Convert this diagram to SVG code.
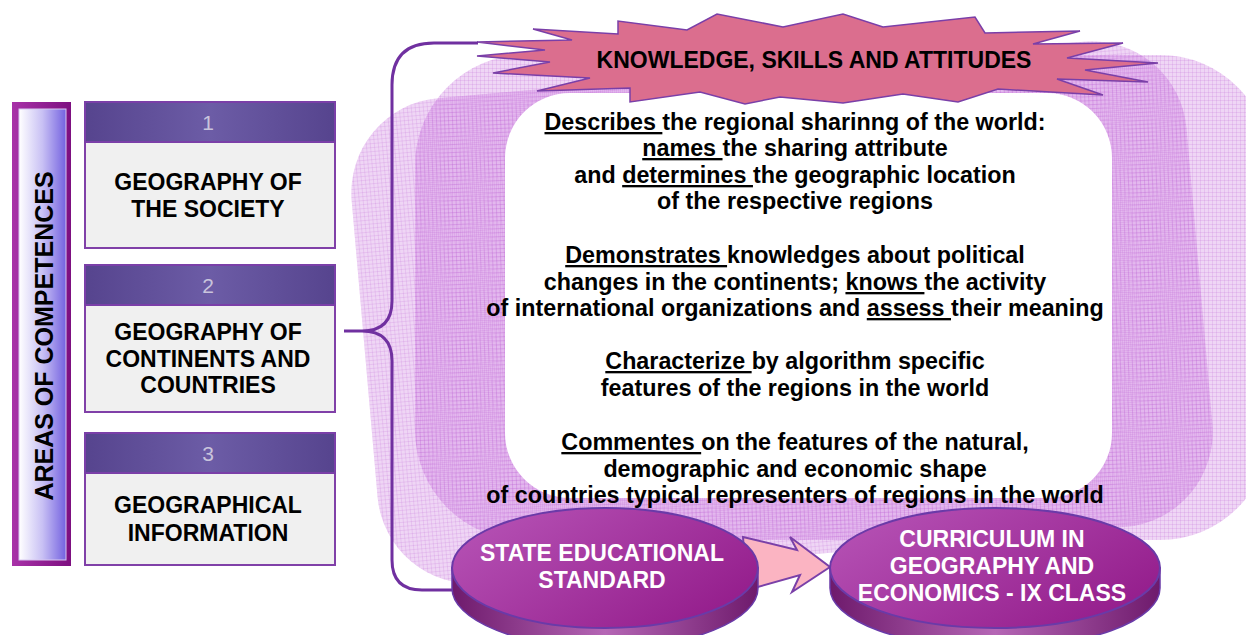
<svg xmlns="http://www.w3.org/2000/svg" width="1246" height="635" viewBox="0 0 1246 635">
<style>
.b{font-family:"Liberation Sans",Arial,sans-serif;font-weight:bold;font-size:23px;fill:#000;text-anchor:middle}
.m{font-size:23.3px}
.w{font-family:"Liberation Sans",Arial,sans-serif;font-weight:bold;font-size:23px;fill:#fff;text-anchor:middle}
.num{font-family:"Liberation Sans",Arial,sans-serif;font-size:21px;fill:#c9c4dc;text-anchor:middle}
.hdr{fill:url(#hdrG);stroke:#7a3fa8;stroke-width:2}
.body{fill:#f0f0f0;stroke:#8040a8;stroke-width:2}
.u{text-decoration:underline}
.face{stroke:#6a3aa8;stroke-width:2}
</style>
<defs>
<pattern id="grid" width="4" height="4" patternUnits="userSpaceOnUse">
<rect width="4" height="4" fill="#c060d8" fill-opacity="0.26"/>
<path d="M0 0.5H4M0.5 0V4" stroke="#b048d0" stroke-opacity="0.14" stroke-width="1"/>
</pattern>
<linearGradient id="hdrG" x1="0" y1="0" x2="1" y2="0">
<stop offset="0" stop-color="#56448e"/><stop offset="0.5" stop-color="#6c5ca6"/><stop offset="1" stop-color="#56448e"/>
</linearGradient>
<linearGradient id="barOut" x1="0" y1="0" x2="1" y2="0">
<stop offset="0" stop-color="#a832a8"/><stop offset="1" stop-color="#7d0f80"/>
</linearGradient>
<linearGradient id="barIn" x1="0" y1="0" x2="1" y2="0">
<stop offset="0" stop-color="#ffffff"/><stop offset="0.5" stop-color="#c8c0f4"/><stop offset="1" stop-color="#7462e0"/>
</linearGradient>
<linearGradient id="faceG" x1="0" y1="0" x2="1" y2="0.6">
<stop offset="0" stop-color="#b856b8"/><stop offset="1" stop-color="#96208e"/>
</linearGradient>
<linearGradient id="sideG" x1="0" y1="0" x2="1" y2="0">
<stop offset="0" stop-color="#6e1a6c"/><stop offset="0.5" stop-color="#b566b5"/><stop offset="1" stop-color="#6e1a6c"/>
</linearGradient>
</defs>

<g id="background">
<rect x="-419" y="-243" width="838" height="487" rx="95" fill="url(#grid)" transform="translate(782,312) rotate(-5)"/>
<rect x="415" y="55" width="855" height="485" rx="110" fill="url(#grid)"/>
</g>

<g id="areas-bar">
<rect x="12" y="102" width="59" height="464" fill="url(#barOut)"/>
<rect x="19" y="109" width="47" height="451" fill="url(#barIn)" stroke="#d8c8f0" stroke-width="1"/>
<text class="b" style="font-size:25px" transform="translate(53,336) rotate(-90)">AREAS OF COMPETENCES</text>
</g>

<g id="area-1">
<rect class="body" x="85" y="142" width="250" height="106"/>
<rect class="hdr" x="85" y="102" width="250" height="40"/>
<text class="num" x="208" y="130">1</text>
<text class="b" x="208" y="190">GEOGRAPHY OF</text>
<text class="b" x="208" y="217">THE SOCIETY</text>
</g>

<g id="area-2">
<rect class="body" x="85" y="305" width="250" height="107"/>
<rect class="hdr" x="85" y="265" width="250" height="40"/>
<text class="num" x="208" y="293">2</text>
<text class="b" x="208" y="340">GEOGRAPHY OF</text>
<text class="b" x="208" y="367">CONTINENTS AND</text>
<text class="b" x="208" y="393">COUNTRIES</text>
</g>

<g id="area-3">
<rect class="body" x="85" y="473" width="250" height="92"/>
<rect class="hdr" x="85" y="433" width="250" height="40"/>
<text class="num" x="208" y="461">3</text>
<text class="b" x="208" y="513">GEOGRAPHICAL</text>
<text class="b" x="208" y="541">INFORMATION</text>
</g>

<g id="content-box">
<rect x="505" y="93" width="607" height="405" rx="65" fill="#ffffff"/>
<text class="b m" x="795" y="130"><tspan class="u">Describes </tspan>the regional sharinng of the world:</text>
<text class="b m" x="795" y="156"><tspan class="u">names </tspan>the sharing attribute</text>
<text class="b m" x="795" y="183">and <tspan class="u">determines </tspan>the geographic location</text>
<text class="b m" x="795" y="209">of the respective regions</text>
<text class="b m" x="795" y="263"><tspan class="u">Demonstrates </tspan>knowledges about political</text>
<text class="b m" x="795" y="290">changes in the continents; <tspan class="u">knows </tspan>the activity</text>
<text class="b m" x="795" y="316">of international organizations and <tspan class="u">assess </tspan>their meaning</text>
<text class="b m" x="795" y="369"><tspan class="u">Characterize </tspan>by algorithm specific</text>
<text class="b m" x="795" y="396">features of the regions in the world</text>
<text class="b m" x="795" y="450"><tspan class="u">Commentes </tspan>on the features of the natural,</text>
<text class="b m" x="795" y="477">demographic and economic shape</text>
<text class="b m" x="795" y="503">of countries typical representers of regions in the world</text>
</g>

<g id="title-star">
<polygon points="533,29 618,34 618,21 687,30 717,14 783,27 843,14 883,27 975,17 985,33 1080,31 1033,44 1123,43 1067,58 1158,63 1085,70 1148,82 1057,79 1103,95 998,89 958,102 903,94 843,103 780,97 745,104 700,92 630,102 630,88 537,91 590,78 493,73 550,62 477,56 545,50 477,42 572,40" fill="#db6e8e" stroke="#7a3fa8" stroke-width="1.5" stroke-linejoin="miter"/>
<text class="b" x="814" y="68">KNOWLEDGE, SKILLS AND ATTITUDES</text>
</g>

<g id="connectors">
<path d="M344 331 H362 Q392 331 392 301 V85 Q392 43 434 43 H478 M362 331 Q392 331 392 361 V560 Q392 590 422 590 H455" fill="none" stroke="#7030a0" stroke-width="3"/>
<polygon points="743,537 797,550 790,537 830,567 792,592 800,575 747,590" fill="#fbb4c2" stroke="#7a40a8" stroke-width="2" stroke-linejoin="miter"/>
</g>

<g id="state-standard">
<path d="M452 568 V588 A153 60 0 0 0 758 588 V568 Z" fill="url(#sideG)" stroke="#6a3aa8" stroke-width="1.5"/>
<ellipse class="face" cx="605" cy="568" rx="153" ry="60" fill="url(#faceG)"/>
<text class="w" x="602" y="561">STATE EDUCATIONAL</text>
<text class="w" x="602" y="588">STANDARD</text>
</g>

<g id="curriculum">
<path d="M830 568 V588 A165 60 0 0 0 1160 588 V568 Z" fill="url(#sideG)" stroke="#6a3aa8" stroke-width="1.5"/>
<ellipse class="face" cx="995" cy="568" rx="165" ry="60" fill="url(#faceG)"/>
<text class="w" x="992" y="547">CURRICULUM IN</text>
<text class="w" x="992" y="574">GEOGRAPHY AND</text>
<text class="w" x="992" y="601">ECONOMICS - IX CLASS</text>
</g>
</svg>
